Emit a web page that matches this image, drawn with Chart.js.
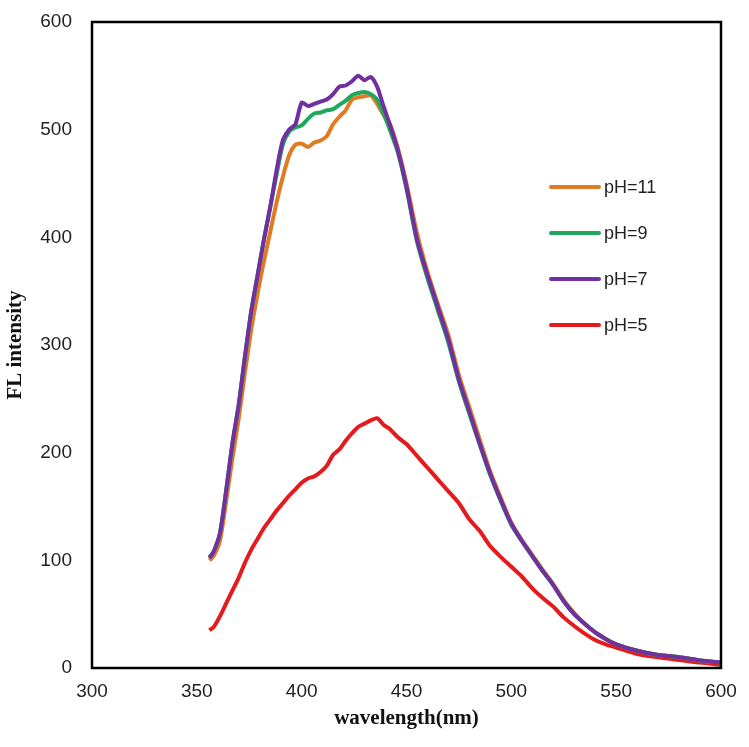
<!DOCTYPE html>
<html>
<head>
<meta charset="utf-8">
<script src="https://cdn.jsdelivr.net/npm/chart.js@4.4.1/dist/chart.umd.min.js"></script>
<style>
    html, body { margin: 0; padding: 0; background: #fff; }
    #wrap { width: 749px; height: 747px; }
</style>
</head>
<body>
<div id="wrap"><canvas id="flChart" width="749" height="747"></canvas></div>
<script>
// wavelength grid (nm) shared by all spectra
const wavelengths = [356, 358, 361, 364, 367, 370, 373, 376, 379, 382, 385, 388, 391, 394, 397,
    400, 403, 406, 409, 412, 415, 418, 421, 424, 427, 430, 433, 436, 439, 442, 446, 450, 455,
    460, 465, 470, 475, 480, 485, 490, 495, 500, 505, 510, 515, 520, 525, 530, 535, 540, 545,
    550, 560, 570, 580, 590, 600];

const ph11 = [100, 104, 118, 155, 195, 232, 275, 315, 348, 378, 405, 432, 456, 476, 486,
    487, 484, 488, 490, 494, 505, 512, 518, 528, 530, 531, 532, 524, 514, 506, 482, 450, 404,
    368, 338, 309, 272, 242, 212, 182, 158, 135, 119, 105, 91, 78, 63, 51, 41, 33, 27,
    22, 16, 12, 10, 7, 5];

const ph9 = [103, 108, 125, 165, 209, 245, 290, 332, 365, 398, 428, 458, 486, 498, 502,
    504, 510, 515, 516, 518, 519, 523, 527, 532, 534, 535, 533, 528, 515, 500, 478, 445, 396,
    362, 332, 302, 266, 236, 207, 179, 155, 133, 118, 104, 90, 77, 62, 50, 41, 33, 27,
    22, 16, 12, 10, 7, 5];

const ph7 = [102, 108, 125, 165, 209, 245, 290, 332, 365, 398, 428, 462, 490, 500, 505,
    525, 522, 524, 526, 528, 533, 540, 541, 545, 550, 546, 549, 540, 522, 505, 480, 447, 398,
    365, 335, 305, 268, 238, 208, 180, 156, 134, 118, 104, 90, 77, 62, 50, 41, 33, 27,
    22, 16, 12, 10, 7, 5];

const ph5 = [35, 38, 48, 60, 72, 84, 98, 110, 120, 130, 138, 146, 153, 160, 166,
    172, 176, 178, 182, 188, 198, 203, 211, 218, 224, 227, 230, 232, 226, 222, 214, 208, 197,
    186, 175, 164, 153, 138, 127, 113, 103, 94, 85, 74, 65, 57, 47, 39, 32, 26, 22,
    19, 13, 10, 7.5, 5, 3];

const seriesLabels = ['pH=11', 'pH=9', 'pH=7', 'pH=5'];
const seriesColors = ['#E07B24', '#1FA85C', '#7030A0', '#E41A1C'];

function toPoints(values) {
    return values.map((v, i) => ({ x: wavelengths[i], y: v }));
}

// legend drawn inside the plot, at the right
const insideLegend = {
    id: 'insideLegend',
    afterDraw(chart) {
        const ctx = chart.ctx;
        const area = chart.chartArea;
        ctx.save();
        // frame round the plot
        ctx.strokeStyle = '#000';
        ctx.lineWidth = 2.5;
        ctx.strokeRect(area.left, area.top, area.right - area.left, area.bottom - area.top);

        ctx.font = '18px "Liberation Sans", Arial, sans-serif';
        ctx.textBaseline = 'middle';
        ctx.textAlign = 'left';
        chart.data.datasets.forEach((ds, i) => {
            const y = area.top + 165 + i * 46;
            const x0 = area.left + 459;
            ctx.strokeStyle = ds.borderColor;
            ctx.lineWidth = 4;
            ctx.lineCap = 'round';
            ctx.beginPath();
            ctx.moveTo(x0, y);
            ctx.lineTo(x0 + 48, y);
            ctx.stroke();
            ctx.fillStyle = '#222';
            ctx.fillText(ds.label, x0 + 53, y + 1);
        });
        ctx.restore();
    }
};

const datasets = [ph11, ph9, ph7, ph5].map((vals, i) => ({
    label: seriesLabels[i],
    data: toPoints(vals),
    borderColor: seriesColors[i],
    backgroundColor: seriesColors[i],
    borderWidth: 4,
    pointRadius: 0,
    tension: 0.25,
    fill: false,
    order: [2, 1, 0, 3][i] // purple on top, red below
}));

const ctx = document.getElementById('flChart').getContext('2d');
const flChart = new Chart(ctx, {
    type: 'line',
    data: { datasets: datasets },
    options: {
        responsive: false,
        animation: false,
        layout: { padding: { left: 0, top: 22, right: 28, bottom: 0 } },
        plugins: {
            legend: { display: false },
            tooltip: { enabled: false }
        },
        scales: {
            x: {
                type: 'linear',
                min: 300,
                max: 600,
                ticks: {
                    stepSize: 50,
                    padding: 12,
                    color: '#222',
                    font: { family: '"Liberation Sans", Arial, sans-serif', size: 19 }
                },
                grid: { display: false, drawTicks: false },
                border: { display: false },
                title: {
                    display: true,
                    text: 'wavelength(nm)',
                    color: '#111',
                    font: { family: '"Liberation Serif", "Times New Roman", serif', size: 21, weight: 'bold' },
                    padding: { top: 0, bottom: 16 }
                },
                afterFit(scale) {
                    scale.height = 79;
                    scale.paddingLeft = 0;
                    scale.paddingRight = 0;
                }
            },
            y: {
                min: 0,
                max: 600,
                ticks: {
                    stepSize: 100,
                    padding: 20,
                    color: '#222',
                    font: { family: '"Liberation Sans", Arial, sans-serif', size: 19 }
                },
                grid: { display: false, drawTicks: false },
                border: { display: false },
                title: {
                    display: true,
                    text: 'FL intensity',
                    color: '#111',
                    font: { family: '"Liberation Serif", "Times New Roman", serif', size: 21, weight: 'bold' },
                    padding: { top: 3, bottom: 0 }
                },
                afterFit(scale) {
                    scale.width = 92;
                    scale.paddingTop = 0;
                    scale.paddingBottom = 0;
                }
            }
        }
    },
    plugins: [insideLegend]
});
</script>
</body>
</html>
